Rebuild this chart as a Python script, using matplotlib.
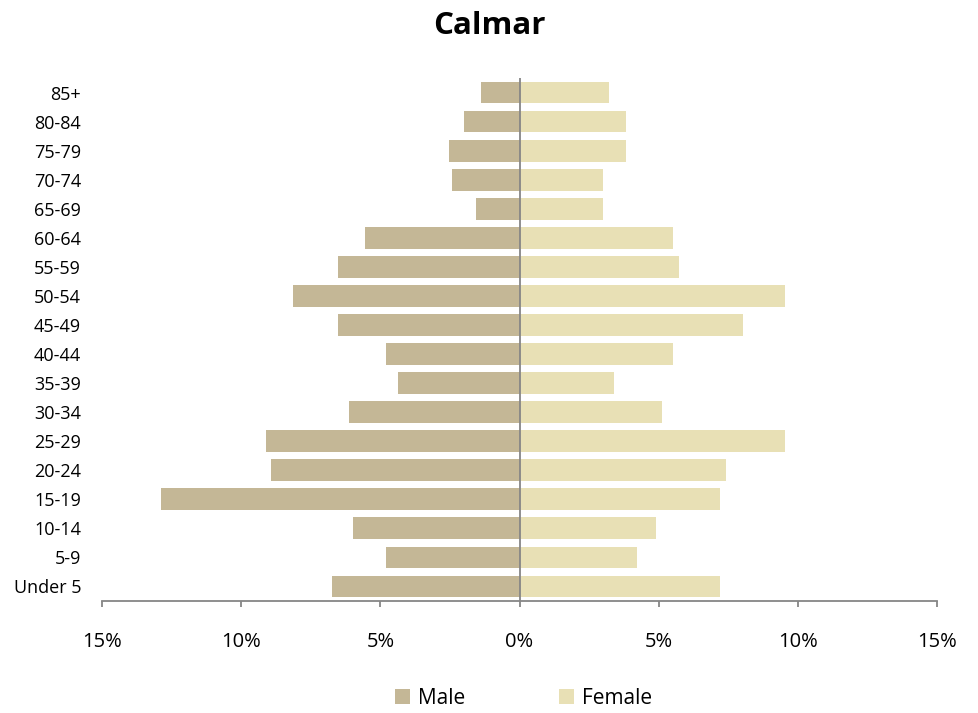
import matplotlib.pyplot as plt
from matplotlib.ticker import FuncFormatter

plt.rcParams["font.family"] = ["Open Sans", "DejaVu Sans"]

# age groups, bottom to top
age_groups = ["Under 5", "5-9", "10-14", "15-19", "20-24", "25-29", "30-34", "35-39",
              "40-44", "45-49", "50-54", "55-59", "60-64", "65-69", "70-74", "75-79",
              "80-84", "85+"]
male = [6.73, 4.78, 5.97, 12.88, 8.92, 9.10, 6.12, 4.35,
        4.78, 6.51, 8.13, 6.51, 5.54, 1.58, 2.41, 2.55,
        1.98, 1.40]
female = [7.19, 4.21, 4.89, 7.19, 7.41, 9.53, 5.11, 3.38,
          5.50, 8.02, 9.53, 5.72, 5.50, 2.99, 2.99, 3.81,
          3.81, 3.20]
xticks = [-15, -10, -5, 0, 5, 10, 15]

MALE_COLOR = "#C4B796"
FEMALE_COLOR = "#E8E0B5"
AXIS_COLOR = "#868686"

fig = plt.figure(figsize=(9.79, 7.13), dpi=100)
ax = fig.add_axes([102 / 979, 112 / 713, 835 / 979, 523 / 713])

y = list(range(len(age_groups)))
ax.barh(y, [-m for m in male], height=0.75, color=MALE_COLOR, label="Male")
ax.barh(y, female, height=0.75, color=FEMALE_COLOR, label="Female")
ax.axvline(0, color=AXIS_COLOR, linewidth=1.3)

ax.set_xlim(-15, 15)
ax.set_ylim(-0.5, len(age_groups) - 0.5)
ax.set_xticks(xticks)
ax.xaxis.set_major_formatter(FuncFormatter(lambda v, p: f"{abs(v):.0f}%"))
ax.set_yticks(y)
ax.set_yticklabels(age_groups)

for side in ["top", "right", "left"]:
    ax.spines[side].set_visible(False)
ax.spines["bottom"].set_color(AXIS_COLOR)
ax.spines["bottom"].set_linewidth(1.3)
ax.tick_params(axis="x", direction="out", length=4.5, color=AXIS_COLOR, width=1.3,
               labelsize=14.5, pad=18)
ax.tick_params(axis="y", length=0, labelsize=13, pad=15)

fig.suptitle("Calmar", fontsize=22.5, fontweight="bold", y=0.984)

fig.legend(loc="lower center", ncol=2, frameon=False, fontsize=15,
           bbox_to_anchor=(0.535, -0.02), handlelength=0.7, handleheight=0.7,
           columnspacing=4.5, handletextpad=0.4)

fig.savefig("out.png", dpi=100)
